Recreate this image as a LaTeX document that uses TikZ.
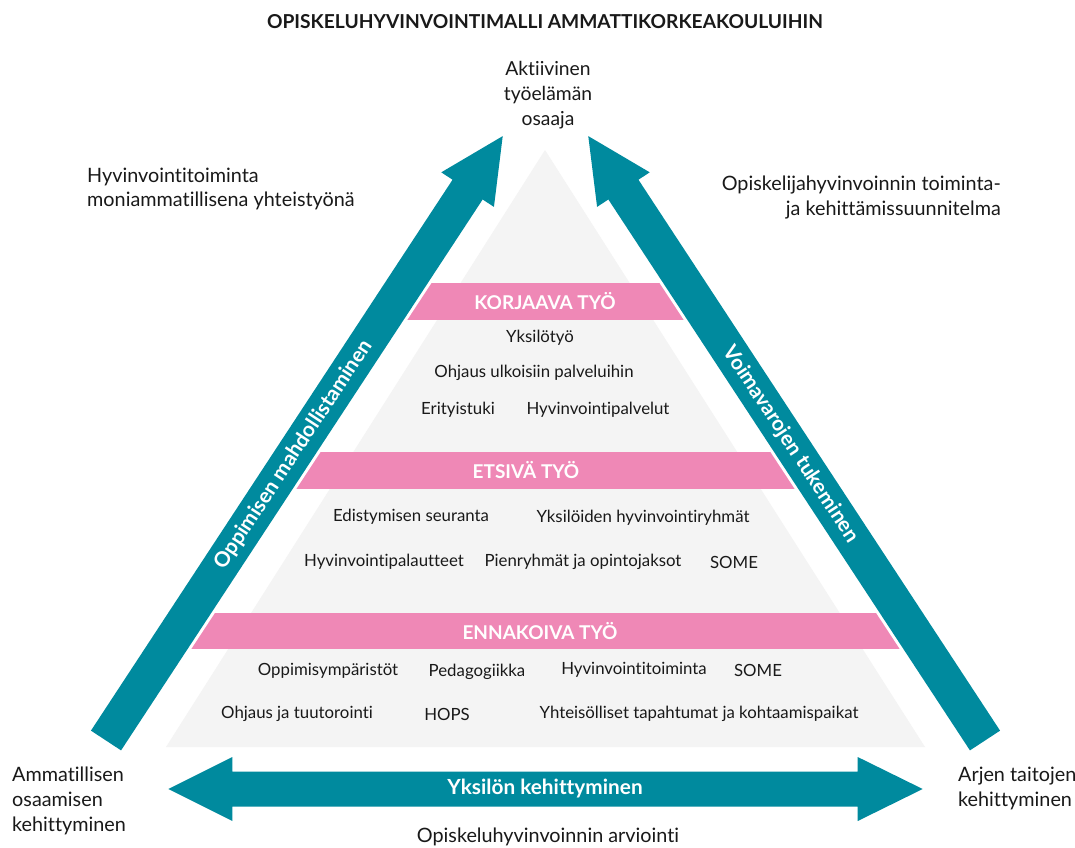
\documentclass[tikz,border=0pt]{standalone}
\usepackage{fontspec}
\setmainfont{Lato}[Ligatures=NoCommon]
\definecolor{tealc}{RGB}{0,138,158}
\definecolor{pinkband}{RGB}{239,136,182}
\definecolor{grayc}{RGB}{244,244,244}
\definecolor{ink}{RGB}{25,25,25}
\begin{document}
\begin{tikzpicture}[x=1pt,y=-1pt,
  every node/.style={inner sep=0pt, text=ink},
  body/.style={font=\fontsize{16.8}{19}\selectfont},
  side/.style={font=\fontsize{19.8}{25}\selectfont},
  bandlabel/.style={font=\bfseries\fontsize{19}{21}\selectfont, text=white},
  bigarrow/.style={fill=tealc, preaction={draw=white, line width=6pt, line join=round}},
  arrowlabel/.style={font=\bfseries\fontsize{20.8}{22}\selectfont, text=white},
]
\useasboundingbox (0,0) rectangle (1075,847);
\fill[white] (0,0) rectangle (1075,847);

% gray pyramid
\fill[grayc] (545,150) -- (166,747) -- (925,747) -- cycle;

% pink bands, cut by the arrow axes
\begin{scope}
\clip (106,740.5) -- (545.5,70.8) -- (985,740.5) -- cycle;
\fill[pinkband] (0,283.3) rectangle (1075,319.7);
\fill[pinkband] (0,452.2) rectangle (1075,488.8);
\fill[pinkband] (0,612.7) rectangle (1075,649.3);
\end{scope}

% left arrow
\begin{scope}[shift={(106,740.5)}, rotate=56.72]
\path[bigarrow] (0,-18) -- (659,-18) -- (659,-31.5) -- (723,0) -- (659,31.5) -- (659,18) -- (0,18) -- cycle;
\node[arrowlabel, rotate=56.72] (oppimisen) at (342,0) {Oppimisen mahdollistaminen};
\end{scope}

% right arrow
\begin{scope}[shift={(985,740.5)}, rotate=123.28]
\path[bigarrow] (0,-18) -- (659,-18) -- (659,-31.5) -- (723,0) -- (659,31.5) -- (659,18) -- (0,18) -- cycle;
\node[arrowlabel, rotate=-56.72] (voimavarat) at (354,0) {Voimavarojen tukeminen};
\end{scope}

% bottom double arrow
\fill[tealc] (168.3,789) -- (232.3,757) -- (232.3,771.5) -- (857.7,771.5) -- (857.7,757) -- (922.7,789)
  -- (857.7,821) -- (857.7,806.5) -- (232.3,806.5) -- (232.3,821) -- cycle;
\node[arrowlabel] (yksilon) at (545,788) {Yksilön kehittyminen};

% title and outer texts
\node[font=\bfseries\fontsize{19.2}{22}\selectfont] (title) at (545,22) {OPISKELUHYVINVOINTIMALLI AMMATTIKORKEAKOULUIHIN};
\node[align=center, font=\fontsize{19.3}{25}\selectfont] (aktiivinen) at (548,95) {Aktiivinen\\työelämän\\osaaja};
\node[align=left, anchor=west, font=\fontsize{19.8}{24}\selectfont] (moniamm) at (87,189) {Hyvinvointitoiminta\\moniammatillisena yhteistyönä};
\node[side, align=right, anchor=east] (suunnitelma) at (1001,198) {Opiskelijahyvinvoinnin toiminta-\\ja kehittämissuunnitelma};
\node[side, align=left, anchor=west] (ammatillisen) at (12,801) {Ammatillisen\\osaamisen\\kehittyminen};
\node[side, align=left, anchor=west] (arjen) at (958,788.5) {Arjen taitojen\\kehittyminen};
\node[side] (arviointi) at (548,837) {Opiskeluhyvinvoinnin arviointi};

% band labels
\node[bandlabel] (korjaava) at (545,301.5) {KORJAAVA TYÖ};
\node[bandlabel] (etsiva) at (526,470.5) {ETSIVÄ TYÖ};
\node[bandlabel] (ennakoiva) at (540,631) {ENNAKOIVA TYÖ};

% korjaava items
\node[body] (k1) at (540,338) {Yksilötyö};
\node[body] (k2) at (534,373) {Ohjaus ulkoisiin palveluihin};
\node[body] (k3) at (458,410) {Erityistuki};
\node[body] (k4) at (598,410) {Hyvinvointipalvelut};

% etsiva items
\node[body] (e1) at (411,517) {Edistymisen seuranta};
\node[body] (e2) at (643,518) {Yksilöiden hyvinvointiryhmät};
\node[body] (e3) at (384,562) {Hyvinvointipalautteet};
\node[body] (e4) at (583,562) {Pienryhmät ja opintojaksot};
\node[body] (e5) at (734,562) {SOME};

% ennakoiva items
\node[body] (n1) at (328,671) {Oppimisympäristöt};
\node[body] (n2) at (477,672) {Pedagogiikka};
\node[body] (n3) at (634,670) {Hyvinvointitoiminta};
\node[body] (n4) at (758,670) {SOME};
\node[body] (n5) at (297,714) {Ohjaus ja tuutorointi};
\node[body] (n6) at (447,714) {HOPS};
\node[body] (n7) at (699,714) {Yhteisölliset tapahtumat ja kohtaamispaikat};
\end{tikzpicture}
\end{document}
